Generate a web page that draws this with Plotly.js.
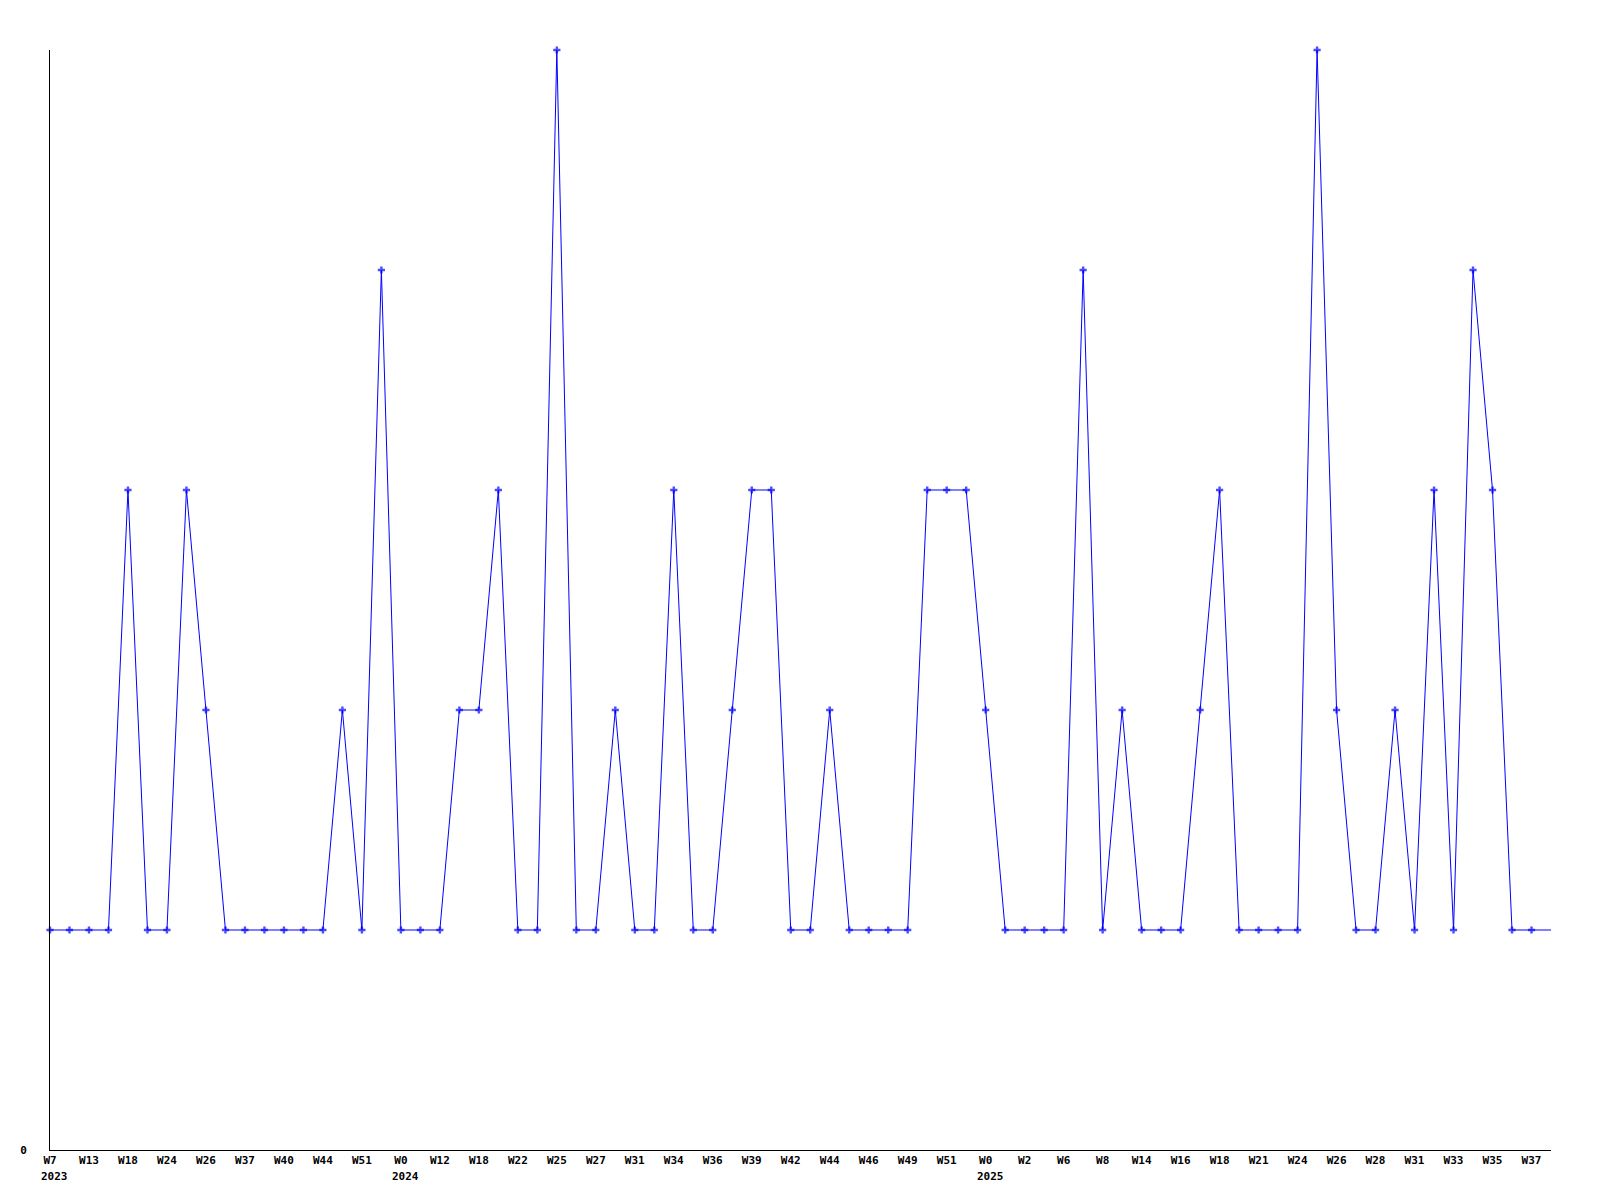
<!DOCTYPE html>
<html>
<head>
<meta charset="utf-8">
<script src="https://cdn.plot.ly/plotly-3.0.1.min.js"></script>
<style>html,body{margin:0;padding:0;background:#fff;}#chart{width:1600px;height:1200px;}</style>
</head>
<body>
<div id="chart"></div>
<script>
// Weekly values (one per point); last value is the trailing segment to the axis end
const values = [1,1,1,1,3,1,1,3,2,1,1,1,1,1,1,2,1,4,1,1,1,2,2,3,1,1,5,1,1,2,1,1,3,1,1,2,3,3,1,1,2,1,1,1,1,3,3,3,2,1,1,1,1,4,1,2,1,1,1,2,3,1,1,1,1,5,2,1,1,2,1,3,1,4,3,1,1,1];
// Tick labels shown on every second point
const tickLabels = ["W7","W13","W18","W24","W26","W37","W40","W44","W51",
  "W0","W12","W18","W22","W25","W27","W31","W34","W36","W39","W42","W44","W46","W49","W51",
  "W0","W2","W6","W8","W14","W16","W18","W21","W24","W26","W28","W31","W33","W35","W37"];
const yearLabels = ["2023","2024","2025"];
const yearTickIndex = [0, 9, 24]; // index into tickLabels where each year starts

const xs = values.map((v,i)=>i);
const tickVals = tickLabels.map((t,i)=>i*2);
const markerSizes = values.map((v,i)=> i < values.length-1 ? 6 : 0);

const font = {family: "DejaVu Sans Mono, monospace", size: 11, color: "#000", weight: "bold"};

const trace = {
  x: xs, y: values, type: "scatter", mode: "lines+markers",
  line: {color: "#0000ff", width: 1},
  marker: {color: "#0000ff", size: markerSizes, symbol: "cross", line: {width: 0}},
  cliponaxis: false,
  hoverinfo: "skip"
};

const annotations = yearLabels.map((y,k)=>({
  x: tickVals[yearTickIndex[k]], y: 0, xref: "x", yref: "paper",
  text: y, showarrow: false, xanchor: "left", yanchor: "top",
  xshift: -11, yshift: -18, font: font
}));

const layout = {
  width: 1600, height: 1200,
  margin: {l: 50, r: 49, t: 50, b: 50},
  paper_bgcolor: "#fff", plot_bgcolor: "#fff",
  showlegend: false,
  font: font,
  xaxis: {
    range: [0, values.length-1], tickmode: "array", tickvals: tickVals, ticktext: tickLabels,
    showgrid: false, zeroline: false, showline: true, linecolor: "#000", linewidth: 1,
    ticks: "", tickangle: 0, tickfont: font, fixedrange: true
  },
  yaxis: {
    range: [0, 5], tickmode: "array", tickvals: [0], ticktext: ["0"],
    showgrid: false, zeroline: false, showline: true, linecolor: "#000", linewidth: 1,
    ticks: "", tickfont: font, ticklabelstandoff: 20, fixedrange: true
  },
  annotations: annotations
};

Plotly.newPlot("chart", [trace], layout, {staticPlot: true, displayModeBar: false});
</script>
</body>
</html>
